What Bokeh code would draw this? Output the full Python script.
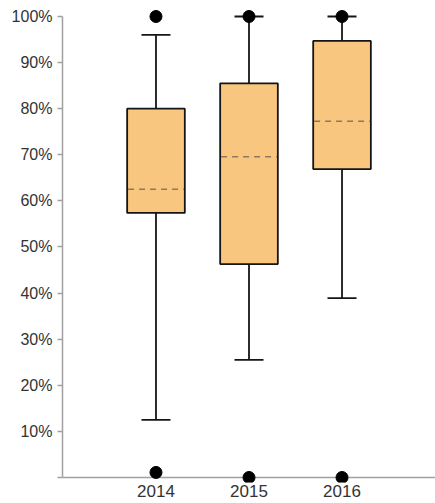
from bokeh.plotting import figure
from bokeh.models import (ColumnDataSource, FactorRange, Range1d, FixedTicker, Span,
                          Whisker, TeeHead)
from bokeh.transform import dodge
from bokeh.embed import file_html
from bokeh.resources import INLINE

# ---- data (percent) ----
years = ["2014", "2015", "2016"]
q1 = [57.4, 46.3, 66.9]
median = [62.5, 69.6, 77.3]
q3 = [80.0, 85.5, 94.7]
lower = [12.5, 25.5, 38.9]
upper = [96.0, 100.0, 100.0]
outlier_years = ["2014", "2014", "2015", "2015", "2016", "2016"]
outlier_values = [100.0, 1.1, 100.0, 0.0, 100.0, 0.0]
y_ticks = [0, 10, 20, 30, 40, 50, 60, 70, 80, 90, 100]
y_tick_labels = ["", "10%", "20%", "30%", "40%", "50%", "60%", "70%", "80%", "90%", "100%"]

FONT = "Liberation Sans"
AXIS_GRAY = "#a0a0a0"
TEXT = "#333333"

p = figure(
    width=435, height=503,
    x_range=FactorRange(factors=years, range_padding=0.505, range_padding_units="absolute"),
    y_range=Range1d(-1.085, 103.47),
    output_backend="svg", toolbar_location=None,
    min_border_left=62, min_border_right=0, min_border_top=0, min_border_bottom=21,
)
p.outline_line_color = None
p.xgrid.visible = False
p.ygrid.visible = False
p.background_fill_color = "white"
p.border_fill_color = "white"

src = ColumnDataSource(dict(year=years, q1=q1, median=median, q3=q3, lower=lower, upper=upper))

# x axis line at 0
p.add_layout(Span(location=0, dimension="width", line_color=AXIS_GRAY, line_width=1.5,
                  level="underlay"))

# whiskers (under the box)
wh = Whisker(source=src, base="year", lower="lower", upper="upper",
             line_color="#151515", line_width=1.8, level="underlay",
             upper_head=TeeHead(size=29, line_color="#151515", line_width=1.8),
             lower_head=TeeHead(size=29, line_color="#151515", line_width=1.8))
p.add_layout(wh)

# boxes
p.vbar(x="year", top="q3", bottom="q1", width=0.62, source=src,
       fill_color="#f8c67e", line_color="#151515", line_width=1.8)

# medians (dashed)
p.segment(x0=dodge("year", -0.30, range=p.x_range), x1=dodge("year", 0.30, range=p.x_range),
          y0="median", y1="median", source=src,
          line_color="#8c7a5e", line_width=1.5, line_dash="6 5")

# outliers
p.scatter(x=outlier_years, y=outlier_values, size=12, color="black")

# y axis
ya = p.yaxis[0]
ya.ticker = FixedTicker(ticks=y_ticks)
ya.major_label_overrides = {t: lab for t, lab in zip(y_ticks, y_tick_labels)}
ya.bounds = (0, 100)
ya.axis_line_color = AXIS_GRAY
ya.axis_line_width = 1.5
ya.major_tick_line_color = AXIS_GRAY
ya.major_tick_line_width = 1.5
ya.major_tick_out = 5
ya.major_tick_in = 0
ya.minor_tick_line_color = None
ya.major_label_standoff = 5
ya.major_label_text_font = FONT
ya.major_label_text_font_size = "16px"
ya.major_label_text_color = TEXT

# x axis
xa = p.xaxis[0]
xa.axis_line_color = None
xa.major_tick_line_color = None
xa.minor_tick_line_color = None
xa.major_tick_out = 0
xa.major_label_standoff = 2
xa.major_label_text_font = FONT
xa.major_label_text_font_size = "17px"
xa.major_label_text_color = TEXT

open("out.html", "w").write(file_html(p, INLINE))
